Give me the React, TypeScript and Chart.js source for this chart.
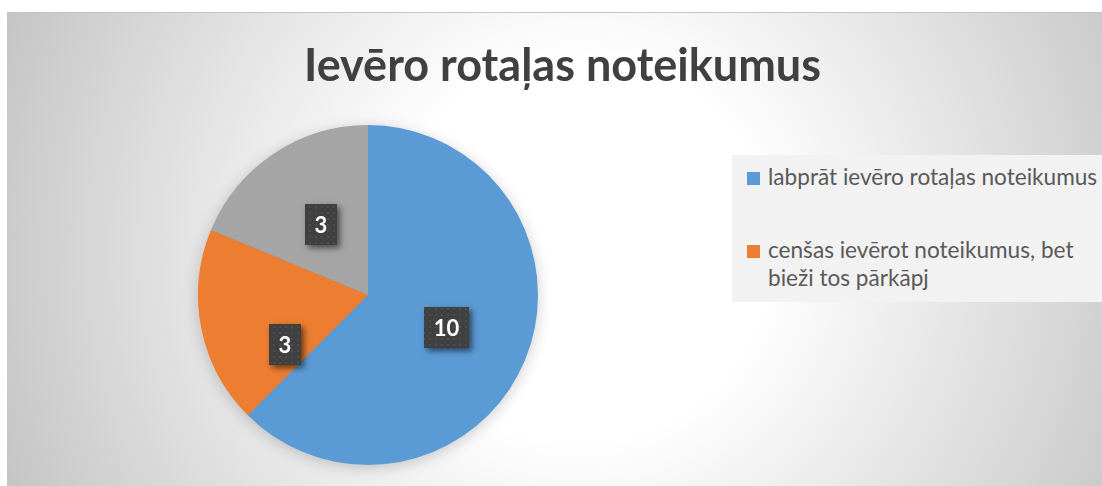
import React, { useEffect, useRef } from "react";
import { Chart, registerables } from "chart.js";

Chart.register(...registerables);

const TITLE = "Ievēro rotaļas noteikumus";
const categories = [
  "labprāt ievēro rotaļas noteikumus",
  "cenšas ievērot noteikumus, bet bieži tos pārkāpj",
  "neievēro rotaļas noteikumus",
];
const values = [10, 3, 3];
const colors = ["#5B9BD5", "#ED7D31", "#A5A5A5"];

const W = 1095;
const H = 474;

function makePattern(): CanvasPattern | string {
  const c = document.createElement("canvas");
  c.width = 6;
  c.height = 6;
  const g = c.getContext("2d");
  if (!g) return "#404040";
  g.fillStyle = "#404040";
  g.fillRect(0, 0, 6, 6);
  g.fillStyle = "#4e4e4e";
  g.fillRect(2, 2, 2, 2);
  const p = g.createPattern(c, "repeat");
  return p || "#404040";
}

const pieShadowPlugin = {
  id: "pieShadow",
  beforeDatasetsDraw(chart: any) {
    const meta = chart.getDatasetMeta(0);
    if (!meta.data.length) return;
    const { x, y, outerRadius } = meta.data[0].getProps(["x", "y", "outerRadius"], true);
    const ctx = chart.ctx;
    ctx.save();
    ctx.shadowColor = "rgba(0,0,0,0.22)";
    ctx.shadowBlur = 16;
    ctx.shadowOffsetX = 0;
    ctx.shadowOffsetY = 3;
    ctx.fillStyle = "#8a8a8a";
    ctx.beginPath();
    ctx.arc(x, y, outerRadius - 1, 0, Math.PI * 2);
    ctx.fill();
    ctx.restore();
  },
};

const boxLabelPlugin = {
  id: "boxLabels",
  afterDatasetsDraw(chart: any, _args: any, opts: any) {
    const ctx = chart.ctx;
    const meta = chart.getDatasetMeta(0);
    const ds = chart.data.datasets[0];
    const pattern = opts.pattern || "#404040";
    ctx.save();
    ctx.font = opts.font;
    meta.data.forEach((arc: any, i: number) => {
      const p = arc.getCenterPoint();
      const shift = (opts.shifts && opts.shifts[i]) || { dx: 0, dy: 0 };
      const cx = p.x + shift.dx;
      const cy = p.y + shift.dy;
      const text = String(ds.data[i]);
      const tw = ctx.measureText(text).width;
      const w = Math.round(tw + 2 * opts.padX);
      const h = opts.height;
      const x = Math.round(cx - w / 2);
      const y = Math.round(cy - h / 2);
      ctx.save();
      ctx.shadowColor = "rgba(0,0,0,0.55)";
      ctx.shadowBlur = 6;
      ctx.shadowOffsetX = 3;
      ctx.shadowOffsetY = 3;
      ctx.fillStyle = "#404040";
      ctx.fillRect(x, y, w, h);
      ctx.restore();
      ctx.fillStyle = pattern;
      ctx.fillRect(x, y, w, h);
      ctx.fillStyle = "#ffffff";
      ctx.textAlign = "center";
      ctx.textBaseline = "middle";
      ctx.fillText(text, x + w / 2, y + h / 2 + 1);
    });
    ctx.restore();
  },
};

export default function App() {
  const ref = useRef<HTMLCanvasElement | null>(null);

  useEffect(() => {
    if (!ref.current) return;
    const chart = new Chart(ref.current, {
      type: "pie",
      data: {
        labels: categories,
        datasets: [
          {
            data: values,
            backgroundColor: colors,
            borderWidth: 0,
          },
        ],
      },
      options: {
        animation: false,
        responsive: false,
        devicePixelRatio: 1,
        rotation: 0,
        layout: { padding: { left: 191, right: 564, top: 113, bottom: 21 } },
        plugins: {
          legend: { display: false },
          title: { display: false },
          tooltip: { enabled: false },
          boxLabels: {
            font: "bold 22px Lato",
            padX: 9.5,
            height: 41,
            pattern: makePattern(),
            shifts: [
              { dx: 0, dy: 0 },
              { dx: 0, dy: 33 },
              { dx: 0, dy: 0 },
            ],
          },
        } as any,
      },
      plugins: [pieShadowPlugin, boxLabelPlugin],
    });
    return () => chart.destroy();
  }, []);

  return (
    <div
      style={{
        position: "absolute",
        left: 7,
        top: 12,
        width: W,
        height: H,
        overflow: "hidden",
        background:
          "radial-gradient(circle at 573px 238px, #ffffff 0px, #ffffff 190px, #c5c5c5 620px)",
      }}
    >
      <canvas
        ref={ref}
        width={W}
        height={H}
        style={{ position: "absolute", left: 0, top: 0, width: W, height: H }}
      />
      <div
        style={{
          position: "absolute",
          left: 0,
          top: 0,
          width: W,
          height: 1,
          background: "#c4c4c4",
        }}
      />
      <div
        style={{
          position: "absolute",
          left: 0,
          top: 25,
          width: 1111,
          textAlign: "center",
          fontFamily: "Lato",
          fontWeight: 700,
          fontSize: 45,
          lineHeight: "54px",
          color: "#404040",
          whiteSpace: "nowrap",
        }}
      >
        {TITLE}
      </div>
      <div
        style={{
          position: "absolute",
          left: 725,
          top: 143,
          width: 420,
          height: 147,
          background: "#f2f2f2",
          overflow: "hidden",
          fontFamily: "Lato",
          fontSize: 22.6,
          lineHeight: "28.4px",
          color: "#595959",
        }}
      >
        {categories.map((c, i) => (
          <div
            key={i}
            style={{
              position: "relative",
              marginTop: i === 0 ? 7.5 : 44.6,
              paddingLeft: 36,
              width: 345,
            }}
          >
            <div
              style={{
                position: "absolute",
                left: 15,
                top: 9.5,
                width: 13,
                height: 13,
                background: colors[i],
              }}
            />
            {c}
          </div>
        ))}
      </div>
    </div>
  );
}
